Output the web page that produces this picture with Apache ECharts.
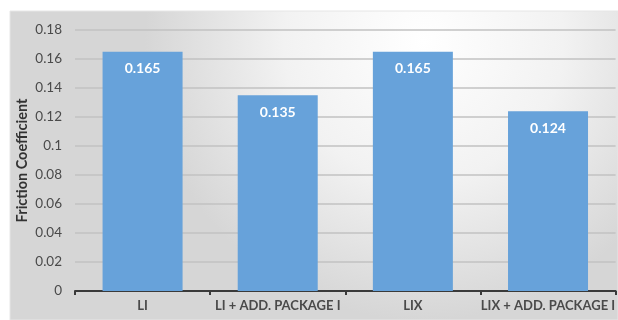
<!DOCTYPE html>
<html><head><meta charset="utf-8">
<script src="https://cdn.jsdelivr.net/npm/echarts@6/dist/echarts.min.js"></script>
<style>html,body{margin:0;padding:0;background:#fff}#c{width:618px;height:320px}</style>
</head><body><div id="c"></div>
<script>
const categories = ['LI', 'LI + ADD. PACKAGE I', 'LIX', 'LIX + ADD. PACKAGE I'];
const frictionValues = [0.165, 0.135, 0.165, 0.124];
const yTicks = [0, 0.02, 0.04, 0.06, 0.08, 0.1, 0.12, 0.14, 0.16, 0.18];

const chart = echarts.init(document.getElementById('c'), null, {renderer: 'canvas'});
const font = 'Lato, "Open Sans", sans-serif';
chart.setOption({
  animation: false,
  graphic: [{
    type: 'rect', z: -10, silent: true,
    shape: {x: 10, y: 11, width: 608, height: 309},
    style: {
      fill: new echarts.graphic.RadialGradient(0.68, 0.1, 0.9, [
        {offset: 0, color: '#ffffff'},
        {offset: 0.5, color: '#f2f2f2'},
        {offset: 1, color: '#d6d6d6'}
      ]),
      stroke: '#e6e6e6', lineWidth: 1
    }
  }],
  grid: {left: 75, right: 1, top: 30, bottom: 29, containLabel: false},
  xAxis: {
    type: 'category', data: categories,
    axisLine: {lineStyle: {color: '#3a3a3a', width: 2}},
    axisTick: {show: true, length: 4, lineStyle: {color: '#3a3a3a', width: 2}},
    axisLabel: {color: '#4a4a4a', fontFamily: font, fontWeight: 'bold', fontSize: 13, margin: 8, interval: 0}
  },
  yAxis: {
    type: 'value', min: 0, max: 0.18, interval: 0.02,
    name: 'Friction Coefficient', nameLocation: 'middle', nameGap: 45, nameMoveOverlap: false,
    nameTextStyle: {color: '#333', fontFamily: font, fontWeight: 'bold', fontSize: 14.5},
    axisLine: {show: false}, axisTick: {show: false},
    axisLabel: {color: '#4a4a4a', fontFamily: font, fontSize: 13.5, margin: 13,
      formatter: v => { const t = yTicks.find(x => Math.abs(x - v) < 1e-9); return String(t !== undefined ? t : v); }},
    splitLine: {lineStyle: {color: '#c2c2c2', width: 1.5}}
  },
  series: [{
    type: 'bar', data: frictionValues, barWidth: 80,
    itemStyle: {color: '#67a2da'},
    label: {show: true, position: 'insideTop', distance: 10, color: '#fff',
      fontFamily: font, fontWeight: 'bold', fontSize: 14, formatter: p => p.value.toFixed(3)}
  }]
});
</script></body></html>
